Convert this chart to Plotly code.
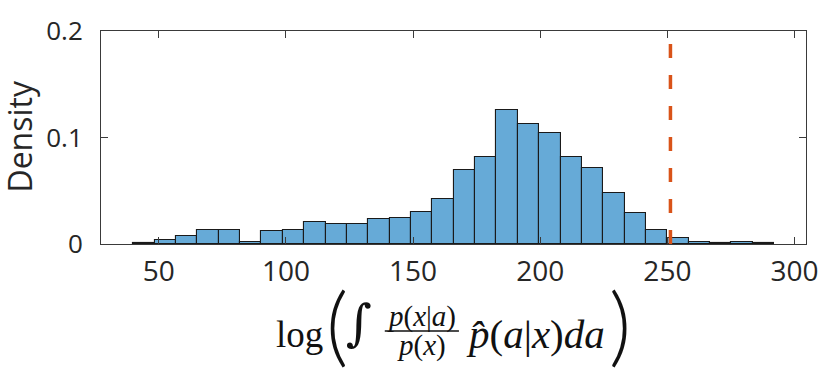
import plotly.graph_objects as go

# histogram (bin width 8.4, from 40 to 292)
bin_edges = [40.0, 48.4, 56.8, 65.2, 73.6, 82.0, 90.4, 98.8, 107.2, 115.6, 124.0,
             132.4, 140.8, 149.2, 157.6, 166.0, 174.4, 182.8, 191.2, 199.6, 208.0,
             216.4, 224.8, 233.2, 241.6, 250.0, 258.4, 266.8, 275.2, 283.6, 292.0]
density = [0.0008, 0.0037, 0.0075, 0.0128, 0.0136, 0.0023, 0.0119, 0.0128, 0.0206, 0.0188,
           0.0188, 0.0235, 0.0246, 0.0296, 0.0426, 0.0696, 0.0815, 0.1258, 0.1128, 0.1038,
           0.0815, 0.0716, 0.0475, 0.0287, 0.0128, 0.0055, 0.0015, 0.0007, 0.0015, 0.0007]
threshold = 251.2

x_ticks = [50, 100, 150, 200, 250, 300]
y_ticks = [0, 0.1, 0.2]
y_ticklabels = ["0", "0.1", "0.2"]

centers = [(a + b) / 2 for a, b in zip(bin_edges[:-1], bin_edges[1:])]
widths = [b - a for a, b in zip(bin_edges[:-1], bin_edges[1:])]

# plot area in pixels
L, R, T, B = 101, 814, 14, 244


def px(x):
    return (x - L) / (R - L)


def py(y):
    return (B - y) / (B - T)


fig = go.Figure()
fig.add_trace(go.Bar(
    x=centers, y=density, width=widths,
    marker=dict(color="#66AAD7", line=dict(color="#1a1a1a", width=1.1)),
    hoverinfo="skip",
))

fig.add_shape(type="line", xref="x", yref="paper", x0=threshold, x1=threshold, y0=0, y1=1,
              line=dict(color="#D95319", width=3.5, dash="14px,17px"))

axis_common = dict(showline=True, linecolor="#3a3a3a", linewidth=1, mirror="ticks",
                   ticks="inside", ticklen=7, tickcolor="#3a3a3a", showgrid=False,
                   zeroline=False, ticklabeloverflow="allow")

fig.update_xaxes(range=[27.3, 304.5], tickvals=x_ticks, ticklabelstandoff=2,
                 tickfont=dict(family="Open Sans", size=28, color="#262626"), **axis_common)
fig.update_yaxes(range=[0, 0.20001], tickvals=y_ticks, ticktext=y_ticklabels,
                 ticklabelstandoff=12,
                 tickfont=dict(family="Open Sans", size=26, color="#262626"), **axis_common)

serif = "Liberation Serif"
ink = "#111111"
ann = [
    dict(text="log", x=302, y=342, size=37, font=serif, weight=400),
    dict(text="(", x=340, y=329, size=86, font="Lato", weight=300),
    dict(text="∫", x=362, y=329, size=50, font="DejaVu Serif", weight=400),
    dict(text="<i>p</i>(<i>x</i>|<i>a</i>)", x=425, y=322, size=29, font=serif, weight=400),
    dict(text="<i>p</i>(<i>x</i>)", x=425, y=354, size=29, font=serif, weight=400),
    dict(text="<i>p̂</i>(<i>a</i>|<i>x</i>)<i>da</i>", x=540, y=341, size=41, font=serif, weight=400),
    dict(text=")", x=626, y=329, size=86, font="Lato", weight=300),
]
for a in ann:
    fig.add_annotation(text=a["text"], xref="paper", yref="paper", x=px(a["x"]), y=py(a["y"]),
                       xanchor="center", yanchor="middle", showarrow=False,
                       font=dict(family=a["font"], size=a["size"], color=ink, weight=a["weight"]))
# fraction bar
fig.add_shape(type="line", xref="paper", yref="paper", x0=px(388), x1=px(463),
              y0=py(338), y1=py(338), line=dict(color=ink, width=1.5))

fig.add_annotation(text="Density", xref="paper", yref="paper", x=px(19), y=py(127),
                   xanchor="center", yanchor="middle", textangle=-90, showarrow=False,
                   font=dict(family="Open Sans", size=32, color="#262626"))

fig.update_layout(
    width=830, height=375,
    margin=dict(l=L, r=830 - R, t=T, b=375 - B),
    plot_bgcolor="white", paper_bgcolor="white",
    showlegend=False, bargap=0,
)

fig.write_html("out.html", config={"displayModeBar": False},
               post_script="document.body.style.margin='0px';")
